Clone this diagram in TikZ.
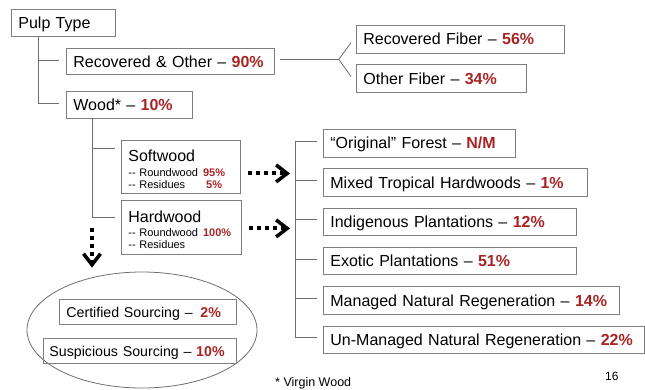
\documentclass[tikz,border=0pt]{standalone}
\usepackage{fontspec}
\setmainfont{Liberation Sans}
\usepackage{xcolor}
\usepackage{tikz}
\usetikzlibrary{
    positioning,
    arrows.meta,
    shapes.geometric
}
\definecolor{pctred}{RGB}{168,36,36}
\definecolor{framegray}{RGB}{125,125,125}
\definecolor{linegray}{RGB}{110,110,110}
\newcommand{\pct}[1]{{\bfseries\color{pctred}#1}}
\tikzset{
    framebox/.style={
        rectangle, draw=framegray, line width=0.8pt, anchor=north west,
        inner xsep=7pt, inner ysep=0pt, align=left, text=black,
        font=\fontsize{16}{19}\selectfont
    },
    box/.style={
        framebox, text height=11.5pt, text depth=0pt, minimum height=27.5pt
    },
    conn/.style={
        draw=linegray, line width=0.8pt
    },
    dotarrow/.style={
        line width=4pt, dash pattern=on 4pt off 4pt,
        -{Straight Barb[length=11pt, width=17pt, line width=3.5pt]}
    }
}

\begin{document}
\begin{tikzpicture}[
        x=1pt, y=-1pt,
        srcbox/.style={box, minimum height=25pt, text height=10.2pt, font=\fontsize{14.2}{17}\selectfont},
        woodbox/.style={framebox, inner ysep=1.5pt, font=\fontsize{11}{12}\selectfont}
    ]
    \useasboundingbox (0,0) rectangle (645,389);

    % PULP TYPE
    \node[box, text width=90pt, minimum height=27pt] (pulp) at (11,9) {Pulp Type};
    \node[box, text width=194pt, minimum height=26pt] (recov) at (66,48) {Recovered \& Other -- \pct{90\%}};
    \node[box, text width=112pt, minimum height=27pt] (wood) at (66,91) {Wood* -- \pct{10\%}};

    % FIBERS
    \node[box, text width=194pt] (recfib) at (356,25) {Recovered Fiber -- \pct{56\%}};
    \node[box, text width=156pt, below=11pt of recfib.south west, anchor=north west] (othfib) {Other Fiber -- \pct{34\%}};

    % SOFTWOOD / HARDWOOD
    \node[woodbox, text width=105pt, minimum height=53pt] (soft) at (121,140) {%
        \begin{tabular}{@{}l@{\hspace{5pt}}c@{}}
        \multicolumn{2}{@{}l@{}}{\rule{0pt}{19.5pt}\fontsize{16}{19}\selectfont Softwood}\\[3pt]
        -{}- Roundwood & \pct{95\%}\\
        -{}- Residues & \pct{5\%}
        \end{tabular}};
    \node[woodbox, text width=106pt, minimum height=54pt] (hard) at (121,200) {%
        \begin{tabular}{@{}l@{\hspace{5pt}}c@{}}
        \multicolumn{2}{@{}l@{}}{\rule{0pt}{20pt}\fontsize{16}{19}\selectfont Hardwood}\\[2.5pt]
        -{}- Roundwood & \pct{100\%}\\
        -{}- Residues &
        \end{tabular}};

    % FOREST ORIGIN
    \node[box, text width=178pt] (orig) at (323,129) {``Original'' Forest -- \pct{N/M}};
    \node[box, text width=250pt, below=11pt of orig.south west, anchor=north west] (mixed) {Mixed Tropical Hardwoods -- \pct{1\%}};
    \node[box, text width=239pt, below=11pt of mixed.south west, anchor=north west] (indig) {Indigenous Plantations -- \pct{12\%}};
    \node[box, text width=239pt, below=11pt of indig.south west, anchor=north west] (exotic) {Exotic Plantations -- \pct{51\%}};
    \node[box, text width=282pt, below=11pt of exotic.south west, anchor=north west] (managed) {Managed Natural Regeneration -- \pct{14\%}};
    \node[box, text width=307pt, below=11pt of managed.south west, anchor=north west] (unman) {Un-Managed Natural Regeneration -- \pct{22\%}};

    % SOURCING
    \node[ellipse, draw=linegray, line width=0.8pt, minimum width=230pt, minimum height=116pt, inner sep=0pt] (sourcing) at (142,330) {};
    \node[srcbox, text width=163pt, inner xsep=7pt] (cert) at (59,299) {Certified Sourcing -- \hspace{3pt}\pct{2\%}};
    \node[srcbox, text width=181pt, inner xsep=6pt] (susp) at (43,338) {Suspicious Sourcing -- \pct{10\%}};

    % FOOTER
    \node[anchor=base west, inner sep=0pt, font=\fontsize{12.5}{14}\selectfont] (footnote) at (275,386) {* Virgin Wood};
    \node[anchor=base west, inner sep=0pt, font=\fontsize{12}{14}\selectfont] (pagenum) at (605,380) {16};

    % Connections
    % Pulp Type -> Recovered & Wood
    \coordinate (pulptrunk) at ([xshift=27pt]pulp.south west);
    \coordinate (woodend) at ([yshift=1.5pt]wood.west -| pulptrunk);
    \draw[conn] (pulptrunk) -- (woodend);
    \draw[conn, shorten >=7pt] ([yshift=1.5pt]recov.west -| pulptrunk) -- ([yshift=1.5pt]recov.west);
    \draw[conn, shorten >=7pt] (woodend) -- ([yshift=1.5pt]wood.west);

    % Recovered -> Fibers
    \coordinate (fibsplit) at ([xshift=64pt,yshift=2pt]recov.east);
    \draw[conn, shorten <=5pt] ([yshift=2pt]recov.east) -- (fibsplit);
    \draw[conn] (fibsplit) -- ([xshift=-5pt,yshift=-3.5pt]recfib.west);
    \draw[conn] (fibsplit) -- ([xshift=-5pt,yshift=2pt]othfib.west);

    % Wood -> Softwood & Hardwood
    \coordinate (woodtrunk) at ([xshift=26pt]wood.south west);
    \coordinate (hardstub) at ([yshift=-17pt]hard.north west -| woodtrunk);
    \draw[conn] (woodtrunk) -- (hardstub);
    \draw[conn, shorten >=6pt] ([yshift=-8pt]soft.north west -| woodtrunk) -- ([yshift=-8pt]soft.north west);
    \draw[conn, shorten >=6pt] (hardstub) -- ([yshift=-17pt]hard.north west);

    % Forest origin tree
    \coordinate (trunk) at ([xshift=-28pt]orig.west);
    \draw[conn] ([yshift=2pt]orig.west -| trunk) -- ([yshift=2pt]unman.west -| trunk);
    \foreach \n in {orig, mixed, indig, exotic, managed, unman}
        \draw[conn, shorten >=6pt] ([yshift=2pt]\n.west -| trunk) -- ([yshift=2pt]\n.west);

    % Dotted arrows
    \draw[dotarrow, shorten <=7pt, shorten >=5pt] ([yshift=-6.5pt]soft.east) -- ([yshift=-6.5pt]soft.east -| trunk);
    \draw[dotarrow, shorten <=7pt, shorten >=5pt] ([yshift=-1pt]hard.east) -- ([yshift=-1pt]hard.east -| trunk);
    \draw[dotarrow, shorten <=11pt, shorten >=4pt] (hardstub) -- (hardstub |- sourcing.north);

\end{tikzpicture}
\end{document}
